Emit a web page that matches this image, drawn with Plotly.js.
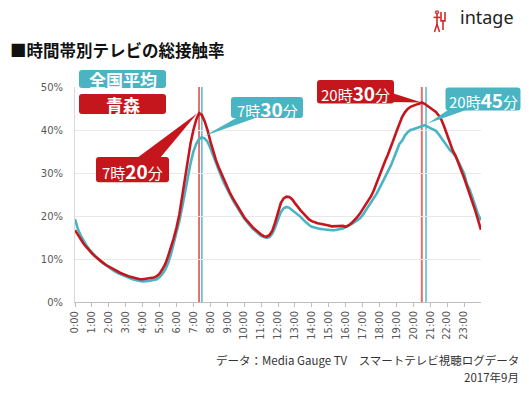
<!DOCTYPE html>
<html>
<head>
<meta charset="utf-8">
<script src="https://cdn.plot.ly/plotly-3.0.1.min.js"></script>
<style>html,body{margin:0;padding:0;background:#fff;}#chart{width:529px;height:393px;}</style>
</head>
<body>
<div id="chart"></div>
<script>
// 10-minute samples from 0:00 to 24:00
const aomori = [
  16.7,15.6,14.6,13.6,12.8,12.0,
  11.3,10.7,10.1,9.6,9.1,8.6,
  8.2,7.8,7.4,7.1,6.8,6.5,
  6.2,6.0,5.8,5.6,5.4,5.3,
  5.3,5.4,5.6,5.7,5.7,6.0,
  6.6,7.6,8.8,10.6,12.6,14.8,
  17.3,20.3,24.5,28.8,33.2,37.0,
  40.0,42.4,43.9,43.5,42.0,40.0,
  37.4,35.0,33.0,31.3,29.8,28.0,
  26.6,25.3,24.1,23.0,21.9,20.7,
  19.7,18.9,18.1,17.4,16.8,16.2,
  15.7,15.3,15.2,15.6,16.6,18.5,
  21.0,23.0,24.1,24.5,24.4,23.9,
  23.0,22.0,21.3,20.6,19.9,19.2,
  18.8,18.5,18.3,18.2,18.1,18.0,
  17.8,17.6,17.6,17.7,17.6,17.7,
  17.5,17.8,18.3,18.9,19.7,20.5,
  21.5,22.5,23.5,24.6,26.0,27.8,
  29.5,31.2,32.8,34.3,35.9,37.8,
  39.6,41.4,43.0,44.1,44.9,45.4,
  45.7,45.9,46.1,46.4,46.1,45.6,
  45.1,44.6,44.2,43.4,42.3,40.7,
  38.8,36.8,35.2,34.0,32.5,30.6,
  28.9,27.0,25.2,23.4,21.2,19.0,
  16.8
];
const national = [
  19.3,17.0,15.5,14.2,13.2,12.3,
  11.5,10.8,10.1,9.5,9.0,8.5,
  8.0,7.6,7.2,6.8,6.5,6.2,
  5.9,5.6,5.4,5.2,5.0,4.9,
  4.8,4.8,4.9,5.0,5.1,5.3,
  5.8,6.5,7.5,9.0,11.0,13.4,
  16.0,18.8,22.0,25.5,29.0,32.3,
  35.0,36.8,37.9,38.3,38.0,37.3,
  35.8,34.0,32.2,30.4,29.0,27.5,
  26.1,24.9,23.7,22.6,21.5,20.4,
  19.4,18.6,17.8,17.1,16.5,15.9,
  15.4,15.1,14.9,15.1,15.9,17.4,
  19.3,20.9,21.8,22.1,21.9,21.4,
  20.9,20.4,19.8,19.1,18.4,17.9,
  17.5,17.3,17.1,17.0,16.9,16.8,
  16.8,16.7,16.7,16.8,16.9,17.1,
  17.4,17.7,18.1,18.5,18.9,19.4,
  20.2,21.2,22.1,23.0,24.0,25.2,
  26.5,27.8,29.0,30.3,31.7,33.3,
  35.0,36.7,37.5,38.7,39.5,40.0,
  40.2,40.4,40.7,40.9,41.1,40.8,
  40.4,40.2,39.8,39.0,38.0,37.2,
  36.0,35.3,34.7,33.8,32.6,31.4,
  29.9,27.5,26.1,24.2,22.0,20.3,
  19.0
];
const tickLabels = ["0:00","1:00","2:00","3:00","4:00","5:00","6:00","7:00","8:00","9:00","10:00","11:00",
  "12:00","13:00","14:00","15:00","16:00","17:00","18:00","19:00","20:00","21:00","22:00","23:00"];
const seriesNames = ["全国平均","青森"];
const peakTimes = {aomoriAM:[7,20], nationalAM:[7,30], aomoriPM:[20,30], nationalPM:[20,45]};

const hours = aomori.map((_, i) => i * 10 / 60);
const tickVals = tickLabels.map((_, i) => i);
const RED = "#C6161D", TEAL = "#4AB4C3";
const JP = "Noto Sans CJK JP";

// plot area in pixels
const L = 75, R = 481, T = 87, B = 301.7;
const X = px => (px - L) / (R - L);
const Y = py => (B - py) / (B - T);
const XMAX = 24, YMAX = 50;
const hx = h => h / XMAX, vy = v => v / YMAX;
const hm = t => t[0] + t[1] / 60;

function rrect(x0, y0, x1, y1, r) {
  const p = (x, y) => X(x).toFixed(5) + "," + Y(y).toFixed(5);
  return "M" + p(x0 + r, y0) + " L" + p(x1 - r, y0) + " Q" + p(x1, y0) + " " + p(x1, y0 + r) +
    " L" + p(x1, y1 - r) + " Q" + p(x1, y1) + " " + p(x1 - r, y1) +
    " L" + p(x0 + r, y1) + " Q" + p(x0, y1) + " " + p(x0, y1 - r) +
    " L" + p(x0, y0 + r) + " Q" + p(x0, y0) + " " + p(x0 + r, y0) + " Z";
}
function tri(a, b, apexH, apexV) {
  return "M" + X(a[0]).toFixed(5) + "," + Y(a[1]).toFixed(5) +
    " L" + hx(apexH).toFixed(5) + "," + vy(apexV).toFixed(5) +
    " L" + X(b[0]).toFixed(5) + "," + Y(b[1]).toFixed(5) + " Z";
}
function maxIn(arr, h0, h1) {
  let m = -1;
  arr.forEach((v, i) => { if (hours[i] >= h0 && hours[i] <= h1 && v > m) m = v; });
  return m;
}

const traces = [
  {x: hours, y: national, type: "scatter", mode: "lines", name: seriesNames[0],
   line: {color: TEAL, width: 2.6}, hoverinfo: "skip"},
  {x: hours, y: aomori, type: "scatter", mode: "lines", name: seriesNames[1],
   line: {color: RED, width: 2.6}, hoverinfo: "skip"}
];

const shapes = [
  {type: "line", xref: "x", yref: "y", x0: hm(peakTimes.aomoriAM), x1: hm(peakTimes.aomoriAM), y0: 0, y1: YMAX,
   line: {color: "#E07070", width: 2}, layer: "below"},
  {type: "line", xref: "x", yref: "y", x0: hm(peakTimes.nationalAM), x1: hm(peakTimes.nationalAM), y0: 0, y1: YMAX,
   line: {color: "#4DBBCB", width: 1.5}, layer: "below"},
  {type: "line", xref: "x", yref: "y", x0: hm(peakTimes.aomoriPM), x1: hm(peakTimes.aomoriPM), y0: 0, y1: YMAX,
   line: {color: "#E07070", width: 2}, layer: "below"},
  {type: "line", xref: "x", yref: "y", x0: hm(peakTimes.nationalPM), x1: hm(peakTimes.nationalPM), y0: 0, y1: YMAX,
   line: {color: "#4DBBCB", width: 1.5}, layer: "below"},
  // legend boxes
  {type: "path", xref: "paper", yref: "paper", path: rrect(79, 70, 166, 88, 3), fillcolor: TEAL, line: {width: 0}},
  {type: "path", xref: "paper", yref: "paper", path: rrect(79, 94, 166, 114, 3), fillcolor: RED, line: {width: 0}},
  // callout pointers
  {type: "path", xref: "paper", yref: "paper", path: tri([137, 158], [160, 158], hm(peakTimes.aomoriAM) - 0.1, maxIn(aomori, 6, 9)),
   fillcolor: RED, line: {width: 0}},
  {type: "path", xref: "paper", yref: "paper", path: tri([238, 117], [258, 117], hm(peakTimes.nationalAM) + 0.15, maxIn(national, 6, 9) + 0.3),
   fillcolor: TEAL, line: {width: 0}},
  {type: "path", xref: "paper", yref: "paper", path: tri([392, 93], [392, 102], hm(peakTimes.aomoriPM), maxIn(aomori, 19, 22)),
   fillcolor: RED, line: {width: 0}},
  {type: "path", xref: "paper", yref: "paper", path: tri([448, 110], [466, 110], hm(peakTimes.nationalPM) + 0.1, maxIn(national, 19, 22) + 0.4),
   fillcolor: TEAL, line: {width: 0}},
  // callout boxes
  {type: "path", xref: "paper", yref: "paper", path: rrect(96, 157, 169, 182, 3), fillcolor: RED, line: {width: 0}},
  {type: "path", xref: "paper", yref: "paper", path: rrect(231, 97, 303, 118, 3), fillcolor: TEAL, line: {width: 0}},
  {type: "path", xref: "paper", yref: "paper", path: rrect(317, 80, 394, 103.5, 3), fillcolor: RED, line: {width: 0}},
  {type: "path", xref: "paper", yref: "paper", path: rrect(445.5, 87.5, 520.5, 110.5, 3), fillcolor: TEAL, line: {width: 0}},
  // logo figure
  {type: "circle", xref: "paper", yref: "paper", x0: X(435.6), x1: X(438.4), y0: Y(11), y1: Y(13.8),
   line: {color: "#D22B2B", width: 1.4}},
  {type: "line", xref: "paper", yref: "paper", x0: X(437), x1: X(437), y0: Y(14), y1: Y(25), line: {color: "#D22B2B", width: 1.6}},
  {type: "line", xref: "paper", yref: "paper", x0: X(433.5), x1: X(440.5), y0: Y(17.5), y1: Y(17.5), line: {color: "#D22B2B", width: 1.6}},
  {type: "line", xref: "paper", yref: "paper", x0: X(437), x1: X(434.5), y0: Y(24), y1: Y(32), line: {color: "#D22B2B", width: 1.6}},
  {type: "line", xref: "paper", yref: "paper", x0: X(437), x1: X(439.5), y0: Y(24), y1: Y(32), line: {color: "#D22B2B", width: 1.6}},
  {type: "path", xref: "paper", yref: "paper",
   path: "M" + X(441) + "," + Y(12) + " L" + X(441) + "," + Y(21) + " L" + X(445) + "," + Y(21) + " L" + X(445) + "," + Y(12),
   line: {color: "#D22B2B", width: 1.6}},
  {type: "line", xref: "paper", yref: "paper", x0: X(443), x1: X(443), y0: Y(21), y1: Y(30), line: {color: "#D22B2B", width: 1.6}}
];

const white = {family: JP, color: "#fff", size: 15};
const big = t => '<b><span style="font-size:19px">' + t + '</span></b>';
const annotations = [
  {xref: "paper", yref: "paper", x: X(8), y: Y(50), xanchor: "left", yanchor: "middle", showarrow: false,
   text: "<b>■時間帯別テレビの総接触率</b>", font: {family: JP, size: 16.5, color: "#111"}},
  {xref: "paper", yref: "paper", x: X(458), y: Y(17), xanchor: "left", yanchor: "middle", showarrow: false,
   text: "intage", font: {family: "Noto Sans", size: 18, color: "#222"}},
  {xref: "paper", yref: "paper", x: X(122.5), y: Y(79.5), xanchor: "center", yanchor: "middle", showarrow: false,
   text: "<b>" + seriesNames[0] + "</b>", font: {family: JP, size: 17, color: "#fff"}},
  {xref: "paper", yref: "paper", x: X(122.5), y: Y(104.5), xanchor: "center", yanchor: "middle", showarrow: false,
   text: "<b>" + seriesNames[1] + "</b>", font: {family: JP, size: 17, color: "#fff"}},
  {xref: "paper", yref: "paper", x: X(132.5), y: Y(170), xanchor: "center", yanchor: "middle", showarrow: false,
   text: peakTimes.aomoriAM[0] + "時" + big(peakTimes.aomoriAM[1]) + "分", font: white},
  {xref: "paper", yref: "paper", x: X(267), y: Y(108), xanchor: "center", yanchor: "middle", showarrow: false,
   text: peakTimes.nationalAM[0] + "時" + big(peakTimes.nationalAM[1]) + "分", font: white},
  {xref: "paper", yref: "paper", x: X(355.5), y: Y(92), xanchor: "center", yanchor: "middle", showarrow: false,
   text: peakTimes.aomoriPM[0] + "時" + big(peakTimes.aomoriPM[1]) + "分", font: white},
  {xref: "paper", yref: "paper", x: X(483), y: Y(99.5), xanchor: "center", yanchor: "middle", showarrow: false,
   text: peakTimes.nationalPM[0] + "時" + big(peakTimes.nationalPM[1]) + "分", font: white},
  {xref: "paper", yref: "paper", x: X(521), y: Y(360), xanchor: "right", yanchor: "middle", showarrow: false,
   text: "データ：Media Gauge TV　スマートテレビ視聴ログデータ", font: {family: JP, size: 11.5, color: "#333"}},
  {xref: "paper", yref: "paper", x: X(521), y: Y(377), xanchor: "right", yanchor: "middle", showarrow: false,
   text: "2017年9月", font: {family: JP, size: 11.5, color: "#333"}}
];

const layout = {
  width: 529, height: 393, autosize: false,
  margin: {l: 75, r: 48, t: 87, b: 91, pad: 0},
  paper_bgcolor: "#fff", plot_bgcolor: "#fff",
  showlegend: false,
  xaxis: {range: [0, XMAX], tickvals: tickVals, ticktext: tickLabels, tickangle: -90,
    showgrid: false, zeroline: false, showline: true, linecolor: "#BFBFBF", linewidth: 1,
    ticks: "outside", ticklen: 4, tickcolor: "#BFBFBF", tickwidth: 1,
    tickfont: {family: "DejaVu Sans", size: 10, color: "#595959"}, fixedrange: true},
  yaxis: {range: [0, YMAX], dtick: 10, ticksuffix: "%", showgrid: true, gridcolor: "#E8E8E8", gridwidth: 1,
    zeroline: false, showline: true, linecolor: "#D9D9D9", linewidth: 1, ticks: "", ticklabelstandoff: 9,
    tickfont: {family: "DejaVu Sans", size: 10, color: "#595959"}, fixedrange: true},
  shapes: shapes,
  annotations: annotations
};

Plotly.newPlot("chart", traces, layout, {staticPlot: true, displayModeBar: false});
</script>
</body>
</html>
